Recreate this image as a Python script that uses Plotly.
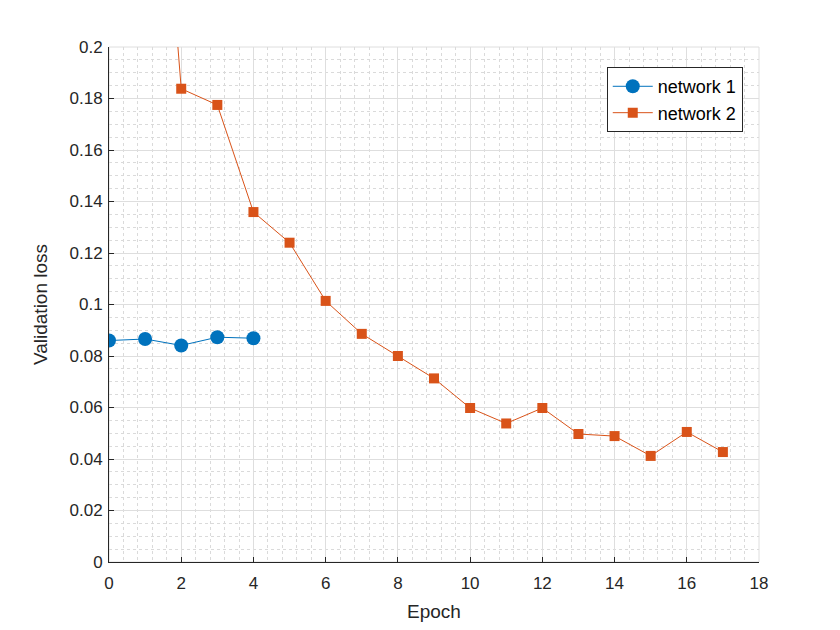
import plotly.graph_objects as go

# network 1
epochs_1 = [0, 1, 2, 3, 4]
loss_1   = [0.0860, 0.0866, 0.0841, 0.0873, 0.0869]

# network 2 (first point sits above the visible range)
epochs_2 = [1, 2, 3, 4, 5, 6, 7, 8, 9, 10, 11, 12, 13, 14, 15, 16, 17]
loss_2   = [0.361, 0.1838, 0.1775, 0.1359, 0.1240, 0.1014, 0.0886, 0.0800, 0.0713,
            0.0598, 0.0538, 0.0598, 0.0497, 0.0489, 0.0412, 0.0505, 0.0427]

y_ticks  = [0, 0.02, 0.04, 0.06, 0.08, 0.1, 0.12, 0.14, 0.16, 0.18, 0.2]
y_labels = ["0", "0.02", "0.04", "0.06", "0.08", "0.1", "0.12", "0.14", "0.16", "0.18", "0.2"]

blue   = "#0072BD"
orange = "#D95319"

fig = go.Figure()
fig.add_trace(go.Scatter(
    x=epochs_1, y=loss_1, mode="lines+markers", name="network 1",
    line=dict(color=blue, width=1),
    marker=dict(symbol="circle", size=14, color=blue)
))
fig.add_trace(go.Scatter(
    x=epochs_2, y=loss_2, mode="lines+markers", name="network 2",
    line=dict(color=orange, width=1),
    marker=dict(symbol="square", size=10, color=orange)
))

grid_major = "#dedede"
grid_minor = "#dadada"

fig.update_xaxes(
    range=[0, 18], dtick=2, tick0=0,
    showline=True, linecolor="#262626", linewidth=1,
    ticks="inside", ticklen=5, tickcolor="#262626",
    showgrid=True, gridcolor=grid_major, gridwidth=1,
    minor=dict(dtick=0.4, showgrid=True, gridcolor=grid_minor, griddash="dot", gridwidth=1),
    zeroline=False, mirror=False, ticklabelstandoff=6,
    title=dict(text="Epoch", font=dict(size=19, color="#262626"), standoff=12),
    tickfont=dict(size=17, color="#262626")
)
fig.update_yaxes(
    range=[0, 0.2], tickvals=y_ticks, ticktext=y_labels,
    showline=True, linecolor="#262626", linewidth=1,
    ticks="inside", ticklen=5, tickcolor="#262626",
    showgrid=True, gridcolor=grid_major, gridwidth=1,
    minor=dict(dtick=0.005, showgrid=True, gridcolor=grid_minor, griddash="dot", gridwidth=1),
    zeroline=False, ticklabelstandoff=2,
    title=dict(text="Validation loss", font=dict(size=19, color="#262626"), standoff=16),
    tickfont=dict(size=17, color="#262626")
)

# light frame on top/right like the reference
fig.add_shape(type="rect", xref="paper", yref="paper", x0=0, y0=0, x1=1, y1=1,
              line=dict(color=grid_major, width=1), layer="below")

fig.update_layout(
    width=840, height=630,
    margin=dict(l=101, r=89, t=39, b=76),
    paper_bgcolor="white", plot_bgcolor="white",
    font=dict(family="Liberation Sans, Arial, sans-serif", color="#262626"),
    legend=dict(
        x=0.975, y=0.961, xanchor="right", yanchor="top",
        bgcolor="white", bordercolor="#262626", borderwidth=1,
        font=dict(size=18, color="#000000"),
        itemwidth=40, tracegroupgap=0
    ),
    showlegend=True
)

fig.write_html("out.html")
